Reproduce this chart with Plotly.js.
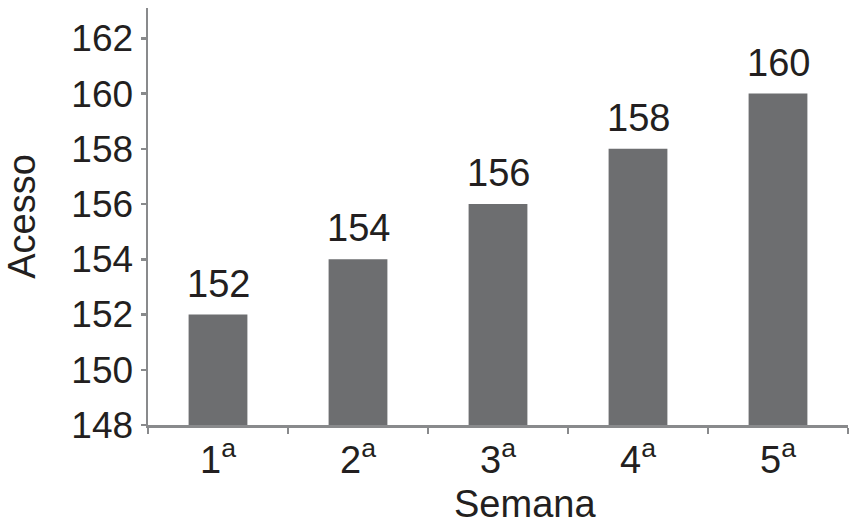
<!DOCTYPE html>
<html>
<head>
<meta charset="utf-8">
<script src="https://cdn.plot.ly/plotly-3.0.1.min.js"></script>
<style>
  body { margin: 0; background: #fff; }
  #chart { width: 859px; height: 529px; }
</style>
</head>
<body>
<div id="chart"></div>
<script>
// data
const semanas = ["1<sup>a</sup>", "2<sup>a</sup>", "3<sup>a</sup>", "4<sup>a</sup>", "5<sup>a</sup>"];
const acessos = [152, 154, 156, 158, 160];
const yTicks = [148, 150, 152, 154, 156, 158, 160, 162];

const FONT = "Liberation Sans, Arial, sans-serif";
const TEXT_COLOR = "#231f20";
const AXIS_COLOR = "#898a8c";

var data = [{
    type: "bar",
    x: semanas,
    y: acessos,
    marker: { color: "#6d6e70" },
    width: 0.42,
    hoverinfo: "skip"
}];

// value labels above the bars
var labels = acessos.map((v, i) => ({
    x: semanas[i],
    y: v,
    text: String(v),
    showarrow: false,
    yanchor: "bottom",
    yshift: 8,
    font: { family: FONT, size: 38, color: TEXT_COLOR }
}));

// x title sits a bit right of the plot centre in the original
labels.push({
    xref: "paper", yref: "paper",
    x: 0.538, y: 0,
    xanchor: "center", yanchor: "top",
    yshift: -56,
    text: "Semana",
    showarrow: false,
    font: { family: FONT, size: 38, color: TEXT_COLOR }
});

var layout = {
    width: 859,
    height: 529,
    margin: { l: 148, r: 11, t: 8, b: 104 },
    paper_bgcolor: "#fff",
    plot_bgcolor: "#fff",
    showlegend: false,
    font: { family: FONT, color: TEXT_COLOR },
    annotations: labels,
    xaxis: {
        type: "category",
        showline: true,
        linecolor: AXIS_COLOR,
        linewidth: 2.5,
        ticks: "outside",
        tickson: "boundaries",
        ticklen: 6,
        tickwidth: 2.5,
        tickcolor: AXIS_COLOR,
        tickfont: { family: FONT, size: 38, color: TEXT_COLOR },
        showgrid: false,
        zeroline: false
    },
    yaxis: {
        range: [148, 163.1],
        tickvals: yTicks,
        showline: true,
        linecolor: AXIS_COLOR,
        linewidth: 2.5,
        ticks: "outside",
        ticklen: 5,
        tickwidth: 2.5,
        tickcolor: AXIS_COLOR,
        tickfont: { family: FONT, size: 37, color: TEXT_COLOR },
        showgrid: false,
        zeroline: false,
        title: { text: "Acesso", font: { family: FONT, size: 38, color: TEXT_COLOR }, standoff: 24 }
    }
};

Plotly.newPlot("chart", data, layout, { staticPlot: true, displayModeBar: false });
</script>
</body>
</html>
